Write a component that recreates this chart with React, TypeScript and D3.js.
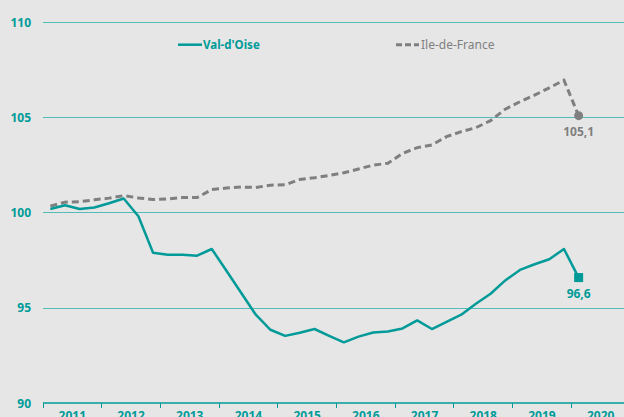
import React from "react";
import * as d3 from "d3";

const W = 624;
const H = 417;

const years = [2011, 2012, 2013, 2014, 2015, 2016, 2017, 2018, 2019, 2020];
const yTicks = [90, 95, 100, 105, 110];

// Quarterly index, Q1 2011 .. Q1 2020
const valDOise = [
  100.2, 100.4, 100.2, 100.28,
  100.5, 100.75, 99.82, 97.9,
  97.8, 97.8, 97.75, 98.1,
  96.96, 95.8, 94.65, 93.86,
  93.54, 93.7, 93.9, 93.54,
  93.2, 93.5, 93.72, 93.77,
  93.93, 94.35, 93.9, 94.28,
  94.65, 95.23, 95.75, 96.45,
  97.0, 97.3, 97.56, 98.1,
  96.6,
];
const ileDeFrance = [
  100.35, 100.56, 100.58, 100.68,
  100.77, 100.9, 100.78, 100.7,
  100.73, 100.8, 100.8, 101.22,
  101.3, 101.35, 101.33, 101.45,
  101.47, 101.75, 101.84, 101.96,
  102.1, 102.3, 102.5, 102.6,
  103.12, 103.42, 103.56, 104.0,
  104.26, 104.47, 104.84, 105.44,
  105.83, 106.18, 106.56, 106.96,
  105.1,
];
const seriesNames = ["Val-d'Oise", "Ile-de-France"];
const lastLabels = ["96,6", "105,1"];

const TEAL = "#009b98";
const GRID = "#55bbb9";
const GRAY = "#7f7f7f";
const FONT = "'Noto Sans', 'Open Sans', sans-serif";

export default function App() {
  const x = d3.scaleLinear().domain([2011, 2021]).range([43, 630]);
  const y = d3.scaleLinear().domain([90, 110]).range([403.3, 22.3]);
  const tOf = (i: number) => 2011 + (i + 0.5) / 4;
  const crisp = (v: number) => Math.floor(v) + 0.5;

  const line = d3
    .line<number>()
    .x((_, i) => x(tOf(i)))
    .y((d) => y(d));

  const lastI = valDOise.length - 1;
  const lx = x(tOf(lastI));

  return (
    <svg
      width={W}
      height={H}
      style={{ position: "fixed", left: 0, top: 0, display: "block" }}
      fontFamily={FONT}
    >
      <rect x={0} y={0} width={W} height={H} fill="#e6e6e6" />
      {yTicks.map((t) => (
        <g key={t}>
          {t !== 90 && (
            <line
              x1={43}
              x2={W}
              y1={crisp(y(t))}
              y2={crisp(y(t))}
              stroke={GRID}
              strokeWidth={1}
            />
          )}
          <text
            x={31}
            y={y(t)}
            dy="0.35em"
            textAnchor="end"
            fill={TEAL}
            fontSize={12}
            fontWeight="bold"
          >
            {t}
          </text>
        </g>
      ))}
      {/* x axis */}
      <line x1={43} x2={W} y1={403} y2={403} stroke={TEAL} strokeWidth={1.5} />
      {years.map((yr) => (
        <g key={yr}>
          <line
            x1={crisp(x(yr))}
            x2={crisp(x(yr))}
            y1={403}
            y2={408}
            stroke={TEAL}
            strokeWidth={1}
          />
          <text
            x={x(yr + 0.5)}
            y={420}
            textAnchor="middle"
            fill={TEAL}
            fontSize={12}
            fontWeight="bold"
          >
            {yr}
          </text>
        </g>
      ))}
      {/* series */}
      <path
        d={line(ileDeFrance) || ""}
        fill="none"
        stroke={GRAY}
        strokeWidth={3}
        strokeDasharray="7,4"
      />
      <path
        d={line(valDOise) || ""}
        fill="none"
        stroke={TEAL}
        strokeWidth={2.5}
        strokeLinejoin="round"
      />
      <circle cx={lx} cy={y(ileDeFrance[lastI])} r={4.5} fill={GRAY} />
      <rect x={lx - 4.5} y={y(valDOise[lastI]) - 4.5} width={9} height={9} fill={TEAL} />
      <text
        x={lx}
        y={y(ileDeFrance[lastI]) + 20}
        textAnchor="middle"
        fill={GRAY}
        fontSize={12}
        fontWeight="bold"
      >
        {lastLabels[1]}
      </text>
      <text
        x={lx}
        y={y(valDOise[lastI]) + 20}
        textAnchor="middle"
        fill={TEAL}
        fontSize={12}
        fontWeight="bold"
      >
        {lastLabels[0]}
      </text>
      {/* legend */}
      <line x1={178} x2={202} y1={44.7} y2={44.7} stroke={TEAL} strokeWidth={2.5} />
      <text x={203} y={44.7} dy="0.35em" fill={TEAL} fontSize={11.5} fontWeight="bold">
        {seriesNames[0]}
      </text>
      <line
        x1={396}
        x2={419}
        y1={44.7}
        y2={44.7}
        stroke={GRAY}
        strokeWidth={3}
        strokeDasharray="6,3"
      />
      <text x={421} y={44.7} dy="0.35em" fill={GRAY} fontSize={12}>
        {seriesNames[1]}
      </text>
    </svg>
  );
}
